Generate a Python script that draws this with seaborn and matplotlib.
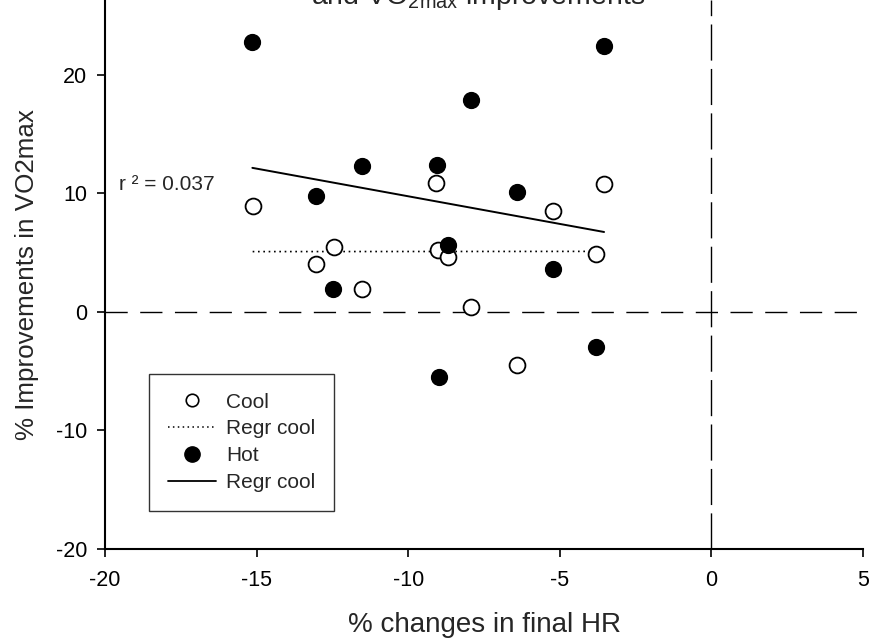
import numpy as np
import pandas as pd
import matplotlib
matplotlib.use("Agg")
import matplotlib.pyplot as plt
from matplotlib.lines import Line2D
import seaborn as sns

# % change in final HR for each subject, with the matching % VO2max improvement
hr_change_hot = [-15.14, -3.54, -7.93, -11.51, -9.06, -13.05, -6.41, -8.69, -5.22, -12.47, -9.00, -3.79]
vo2_hot = [22.8, 22.4, 17.9, 12.3, 12.4, 9.8, 10.1, 5.6, 3.65, 1.9, -5.5, -3.0]

hr_change_cool = [-15.13, -3.54, -9.07, -5.21, -12.45, -9.03, -8.69, -3.79, -13.05, -11.51, -7.93, -6.40]
vo2_cool = [8.9, 10.8, 10.9, 8.5, 5.5, 5.2, 4.6, 4.9, 4.0, 1.9, 0.4, -4.5]

x_ticks = [-20, -15, -10, -5, 0, 5]
y_ticks = [-20, -10, 0, 10, 20]
legend_labels = ["Cool", "Regr cool", "Hot", "Regr cool"]
r2_label = "r \u00b2 = 0.037"

hot = pd.DataFrame({"hr": hr_change_hot, "vo2": vo2_hot})
cool = pd.DataFrame({"hr": hr_change_cool, "vo2": vo2_cool})

sns.set_theme(style="ticks")
plt.rcParams["font.family"] = ["Liberation Sans", "DejaVu Sans"]
plt.rcParams["mathtext.fontset"] = "custom"
plt.rcParams["mathtext.rm"] = "Liberation Sans"
plt.rcParams["axes.unicode_minus"] = False

fig = plt.figure(figsize=(8.75, 6.38), dpi=100)
ax = fig.add_axes([105 / 875, 89 / 638, 758 / 875, 549 / 638])

# reference lines through zero
ax.axhline(0, color="black", lw=1.0, ls=(0, (16, 9)), zorder=1)
ax.axvline(0, color="black", lw=1.0, ls=(0, (26, 6)), zorder=1)

# regression lines
sns.regplot(data=cool, x="hr", y="vo2", scatter=False, ci=None, ax=ax,
            line_kws=dict(color="black", lw=1.2, ls=(0, (1, 2.2))))
sns.regplot(data=hot, x="hr", y="vo2", scatter=False, ci=None, ax=ax,
            line_kws=dict(color="black", lw=1.4, ls="-"))

# points
sns.scatterplot(data=cool, x="hr", y="vo2", ax=ax, s=130, marker="o",
                facecolor="white", edgecolor="black", linewidth=1.3, zorder=3)
sns.scatterplot(data=hot, x="hr", y="vo2", ax=ax, s=130, marker="o",
                color="black", edgecolor="black", linewidth=1.0, zorder=3)

ax.set_xlim(-20, 5)
ax.set_ylim(-20, 26.3)
ax.set_xticks(x_ticks)
ax.set_yticks(y_ticks)
ax.tick_params(direction="out", length=6, width=1.2, labelsize=15.5, colors="black")
ax.tick_params(axis="x", pad=9)
ax.tick_params(axis="y", pad=7)
sns.despine(ax=ax)
for side in ("left", "bottom"):
    ax.spines[side].set_linewidth(1.5)
    ax.spines[side].set_color("black")

ax.set_xlabel("% changes in final HR", fontsize=20, labelpad=15)
ax.set_ylabel("% Improvements in VO2max", fontsize=18.7, labelpad=12)

ax.text(-19.55, 10.3, r2_label, fontsize=15, ha="left", va="baseline")

handles = [
    Line2D([], [], ls="none", marker="o", ms=9, mfc="white", mec="black", mew=1.2),
    Line2D([], [], color="black", lw=1.1, ls=(0, (1, 2.2))),
    Line2D([], [], ls="none", marker="o", ms=11, mfc="black", mec="black"),
    Line2D([], [], color="black", lw=1.3),
]
leg = ax.legend(handles, legend_labels, loc="upper left",
                bbox_to_anchor=(44 / 758, 1 - 374 / 549), borderaxespad=0,
                fontsize=15, frameon=True, fancybox=False, edgecolor="black",
                handlelength=2.3, handletextpad=0.5, labelspacing=0.37,
                borderpad=0.9)
leg.get_frame().set_linewidth(1.0)

fig.text(478 / 875, 1 - 4 / 638, "and VO$_{\\mathregular{2max}}$ improvements",
         fontsize=20.5, ha="center", va="baseline")

fig.savefig("out.png", dpi=100, facecolor="white")
